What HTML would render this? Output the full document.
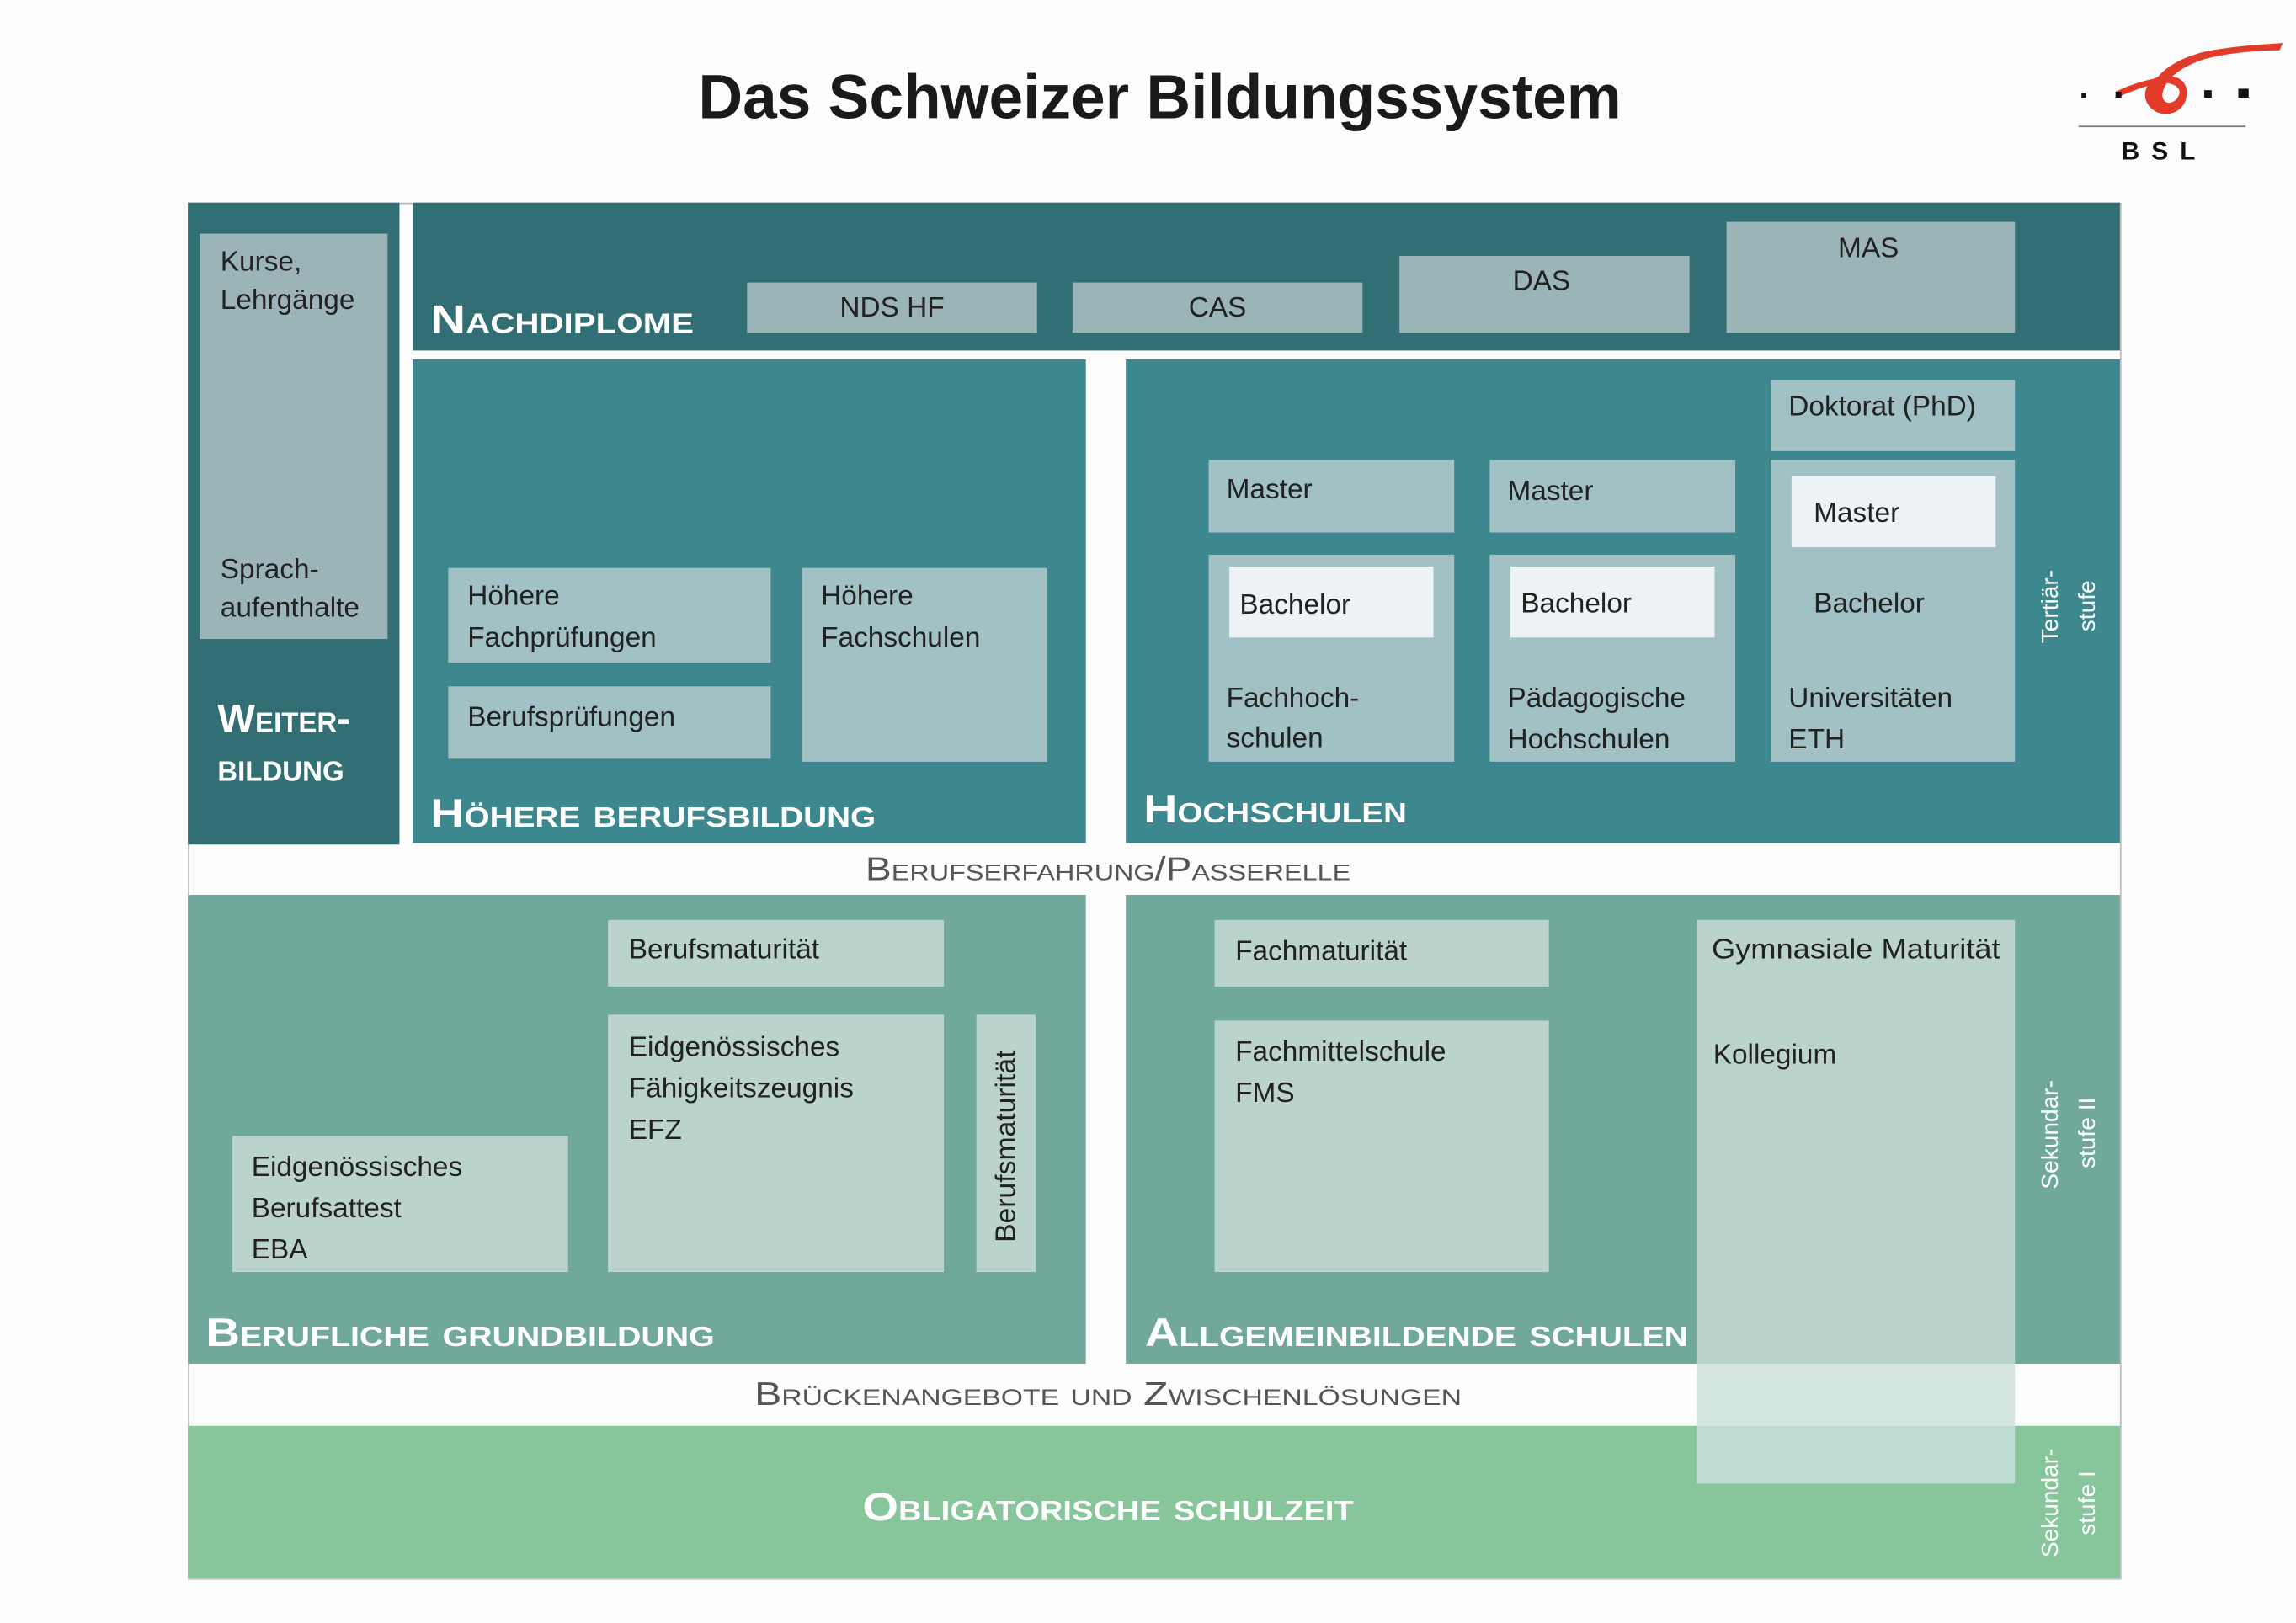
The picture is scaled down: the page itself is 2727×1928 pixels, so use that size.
<!DOCTYPE html>
<html><head><meta charset="utf-8"><style>
html,body{margin:0;padding:0;background:#fdfdfd;}
svg{display:block;}
text{font-family:"Liberation Sans",sans-serif;}
.b{fill:#222;font-size:19px;}
.h{fill:#fff;font-weight:bold;font-variant:small-caps;font-size:27px;}
.g{fill:#555;font-variant:small-caps;font-size:22px;}
.v{fill:#fff;font-size:16px;}
</style></head><body>
<svg width="2727" height="1928" viewBox="0 0 1552 1097.3" preserveAspectRatio="none" xmlns="http://www.w3.org/2000/svg">
<rect width="1552" height="1098" fill="#fdfdfd"/>
<text x="784" y="80" text-anchor="middle" font-size="42" font-weight="bold" fill="#1a1a1a" textLength="624" lengthAdjust="spacingAndGlyphs">Das Schweizer Bildungssystem</text>
<!-- logo -->
<path d="M1430 62 C1445 55 1458 52 1468 52 C1478 52 1482 64 1474 72 C1466 78 1452 74 1454 62 C1456 50 1470 40 1490 35 C1510 31 1530 30 1543 29 L1541 34 C1525 34 1505 36 1490 40 C1475 45 1465 52 1462 62 C1460 70 1468 72 1472 66 C1476 60 1470 56 1462 56 C1452 57 1440 62 1431 66 Z" fill="#e23b2a"/>
<ellipse cx="1464" cy="64" rx="12" ry="11" fill="none" stroke="#e23b2a" stroke-width="4"/>
<rect x="1407" y="63" width="3" height="3" fill="#111"/><rect x="1430" y="62" width="4" height="4" fill="#111"/>
<rect x="1490" y="61" width="5" height="5" fill="#111"/><rect x="1513" y="60" width="7" height="6" fill="#111"/>
<rect x="1405" y="85" width="113" height="1" fill="#777"/>
<text x="1463" y="108" text-anchor="middle" font-size="17" font-weight="bold" fill="#111" letter-spacing="8">BSL</text>

<!-- frame -->
<rect x="127.5" y="137.5" width="1306" height="930" fill="#fdfdfd" stroke="#bbb" stroke-width="1"/>
<!-- Weiterbildung -->
<rect x="127" y="137" width="143" height="434" fill="#316f75"/>
<rect x="135" y="158" width="127" height="274" fill="#9bb4b8"/>
<text class="b" x="149" y="183">Kurse,</text><text class="b" x="149" y="209">Lehrgänge</text>
<text class="b" x="149" y="391">Sprach-</text><text class="b" x="149" y="417">aufenthalte</text>
<text class="h" x="147" y="495">Weiter-</text><text class="h" x="147" y="528">bildung</text>
<!-- Nachdiplome -->
<rect x="279" y="137" width="1154" height="100" fill="#316f75"/>
<text class="h" x="291" y="225" textLength="178" lengthAdjust="spacingAndGlyphs">Nachdiplome</text>
<rect x="505" y="191" width="196" height="34" fill="#9bb4b8"/><text class="b" x="603" y="214" text-anchor="middle">NDS HF</text>
<rect x="725" y="191" width="196" height="34" fill="#9bb4b8"/><text class="b" x="823" y="214" text-anchor="middle">CAS</text>
<rect x="946" y="173" width="196" height="52" fill="#9bb4b8"/><text class="b" x="1042" y="196" text-anchor="middle">DAS</text>
<rect x="1167" y="150" width="195" height="75" fill="#9bb4b8"/><text class="b" x="1263" y="174" text-anchor="middle">MAS</text>
<!-- Höhere Berufsbildung -->
<rect x="279" y="243" width="455" height="327" fill="#3c888e"/>
<rect x="303" y="384" width="218" height="64" fill="#a2c1c5"/><text class="b" x="316" y="409">Höhere</text><text class="b" x="316" y="437">Fachprüfungen</text>
<rect x="303" y="464" width="218" height="49" fill="#a2c1c5"/><text class="b" x="316" y="491">Berufsprüfungen</text>
<rect x="542" y="384" width="166" height="131" fill="#a2c1c5"/><text class="b" x="555" y="409">Höhere</text><text class="b" x="555" y="437">Fachschulen</text>
<text class="h" x="291" y="559" textLength="301" lengthAdjust="spacingAndGlyphs">Höhere berufsbildung</text>
<!-- Hochschulen -->
<rect x="761" y="243" width="672" height="327" fill="#3c888e"/>
<rect x="1197" y="257" width="165" height="48" fill="#a2c1c5"/><text class="b" x="1209" y="281">Doktorat (PhD)</text>
<rect x="817" y="311" width="166" height="49" fill="#a2c1c5"/><text class="b" x="829" y="337">Master</text>
<rect x="1007" y="311" width="166" height="49" fill="#a2c1c5"/><text class="b" x="1019" y="338">Master</text>
<rect x="817" y="375" width="166" height="140" fill="#a2c1c5"/><rect x="831" y="383" width="138" height="48" fill="#edf2f4"/>
<text class="b" x="838" y="415">Bachelor</text><text class="b" x="829" y="478">Fachhoch-</text><text class="b" x="829" y="505">schulen</text>
<rect x="1007" y="375" width="166" height="140" fill="#a2c1c5"/><rect x="1021" y="383" width="138" height="48" fill="#edf2f4"/>
<text class="b" x="1028" y="414">Bachelor</text><text class="b" x="1019" y="478">Pädagogische</text><text class="b" x="1019" y="506">Hochschulen</text>
<rect x="1197" y="311" width="165" height="204" fill="#a2c1c5"/><rect x="1211" y="322" width="138" height="48" fill="#edf2f4"/>
<text class="b" x="1226" y="353">Master</text><text class="b" x="1226" y="414">Bachelor</text>
<text class="b" x="1209" y="478">Universitäten</text><text class="b" x="1209" y="506">ETH</text>
<text class="h" x="773" y="556" textLength="178" lengthAdjust="spacingAndGlyphs">Hochschulen</text>
<text class="v" transform="translate(1391,435) rotate(-90)">Tertiär-</text>
<text class="v" transform="translate(1416,427) rotate(-90)">stufe</text>
<!-- Berufserfahrung -->
<text class="g" x="749" y="595" text-anchor="middle" textLength="328" lengthAdjust="spacingAndGlyphs">Berufserfahrung/Passerelle</text>
<!-- Berufliche Grundbildung -->
<rect x="127" y="605" width="607" height="317" fill="#70a99b"/>
<rect x="411" y="622" width="227" height="45" fill="#bad4cd"/><text class="b" x="425" y="648">Berufsmaturität</text>
<rect x="411" y="686" width="227" height="174" fill="#bad4cd"/><text class="b" x="425" y="714">Eidgenössisches</text><text class="b" x="425" y="742">Fähigkeitszeugnis</text><text class="b" x="425" y="770">EFZ</text>
<rect x="660" y="686" width="40" height="174" fill="#bad4cd"/><text class="b" font-size="17" transform="translate(686,840) rotate(-90)" textLength="130" lengthAdjust="spacingAndGlyphs">Berufsmaturität</text>
<rect x="157" y="768" width="227" height="92" fill="#bad4cd"/><text class="b" x="170" y="795">Eidgenössisches</text><text class="b" x="170" y="823">Berufsattest</text><text class="b" x="170" y="851">EBA</text>
<text class="h" x="139" y="910" textLength="344" lengthAdjust="spacingAndGlyphs">Berufliche grundbildung</text>
<!-- Allgemeinbildende -->
<rect x="761" y="605" width="672" height="317" fill="#70a99b"/>
<rect x="821" y="622" width="226" height="45" fill="#bad4cd"/><text class="b" x="835" y="649">Fachmaturität</text>
<rect x="821" y="690" width="226" height="170" fill="#bad4cd"/><text class="b" x="835" y="717">Fachmittelschule</text><text class="b" x="835" y="745">FMS</text>
<text class="h" x="774" y="910" textLength="367" lengthAdjust="spacingAndGlyphs">Allgemeinbildende schulen</text>
<text class="v" transform="translate(1391,804) rotate(-90)">Sekundar-</text>
<text class="v" transform="translate(1416,790) rotate(-90)">stufe II</text>
<!-- Brücken -->
<text class="g" x="749" y="950" text-anchor="middle" textLength="478" lengthAdjust="spacingAndGlyphs">Brückenangebote und Zwischenlösungen</text>
<!-- Obligatorische -->
<rect x="127" y="964" width="1306" height="103" fill="#87c59b"/>
<text class="h" x="749" y="1028" text-anchor="middle" textLength="332" lengthAdjust="spacingAndGlyphs">Obligatorische schulzeit</text>
<text class="v" transform="translate(1391,1053) rotate(-90)">Sekundar-</text>
<text class="v" transform="translate(1416,1038) rotate(-90)">stufe I</text>
<!-- Gymnasial -->
<rect x="1147" y="622" width="215" height="300" fill="#bad4cd"/>
<rect x="1147" y="922" width="215" height="42" fill="#d5e6e2"/>
<rect x="1147" y="964" width="215" height="39" fill="#bfdcd0"/>
<text class="b" x="1157" y="648" textLength="195" lengthAdjust="spacingAndGlyphs">Gymnasiale Maturität</text>
<text class="b" x="1158" y="719">Kollegium</text>
</svg>
</body></html>
